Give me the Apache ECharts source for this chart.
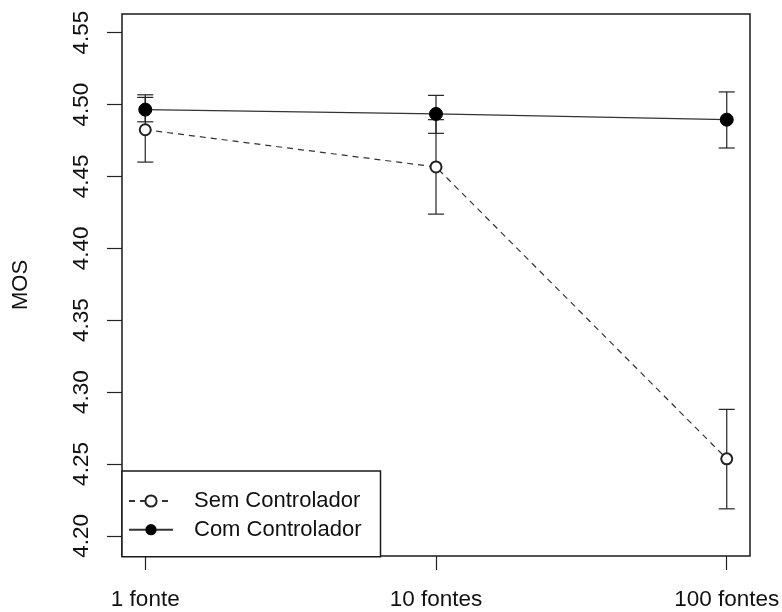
<!DOCTYPE html>
<html>
<head>
<meta charset="utf-8">
<script src="https://cdn.jsdelivr.net/npm/echarts@6/dist/echarts.min.js"></script>
<style>
html,body{margin:0;padding:0;background:#fff;}
#chart{width:782px;height:612px;}
</style>
</head>
<body>
<div id="chart"></div>
<script>
// ---- data ----
const categories = ['1 fonte', '10 fontes', '100 fontes'];
const xPositions = [1, 2, 3];
const semMean = [4.4825, 4.4566, 4.2536];
const semLow  = [4.4600, 4.4238, 4.2188];
const semHigh = [4.5050, 4.4895, 4.2880];
const comMean = [4.4965, 4.4935, 4.4895];
const comLow  = [4.4880, 4.4800, 4.4698];
const comHigh = [4.5068, 4.5064, 4.5088];
const yTicks = [4.20, 4.25, 4.30, 4.35, 4.40, 4.45, 4.50, 4.55];
const seriesNames = ['Sem Controlador', 'Com Controlador'];

const FONT = '"Liberation Sans", Arial, Helvetica, sans-serif';
const chart = echarts.init(document.getElementById('chart'));

function errData(low, high) {
  return xPositions.map((x, i) => [x, low[i], high[i]]);
}
function errRender(params, api) {
  const x = api.value(0);
  const lo = api.coord([x, api.value(1)]);
  const hi = api.coord([x, api.value(2)]);
  const cap = 8;
  const style = { stroke: '#222', lineWidth: 1.2 };
  return {
    type: 'group',
    children: [
      { type: 'line', shape: { x1: lo[0], y1: lo[1], x2: hi[0], y2: hi[1] }, style },
      { type: 'line', shape: { x1: lo[0] - cap, y1: lo[1], x2: lo[0] + cap, y2: lo[1] }, style },
      { type: 'line', shape: { x1: hi[0] - cap, y1: hi[1], x2: hi[0] + cap, y2: hi[1] }, style }
    ]
  };
}

chart.setOption({
  animation: false,
  backgroundColor: '#fff',
  textStyle: { fontFamily: FONT },
  grid: {
    left: 122, right: 32, top: 14, bottom: 56,
    containLabel: false, outerBoundsMode: 'none',
    show: true, borderColor: '#1a1a1a', borderWidth: 1.5, backgroundColor: 'transparent'
  },
  xAxis: {
    type: 'value', min: 0.92, max: 3.08,
    splitLine: { show: false },
    axisLine: { show: false },
    axisTick: { show: true, length: 14, inside: false, customValues: xPositions,
                lineStyle: { color: '#222', width: 1.2 } },
    axisLabel: { show: true, customValues: xPositions, margin: 32,
                 color: '#111', fontSize: 22.5, fontFamily: FONT,
                 formatter: v => categories[xPositions.indexOf(Math.round(v))] || '' }
  },
  yAxis: {
    type: 'value', min: 4.186, max: 4.563,
    name: 'MOS', nameLocation: 'middle', nameGap: 90, nameRotate: 90,
    nameTextStyle: { color: '#111', fontSize: 22, fontFamily: FONT },
    splitLine: { show: false },
    axisLine: { show: false },
    axisTick: { show: true, length: 15, customValues: yTicks,
                lineStyle: { color: '#222', width: 1.2 } },
    axisLabel: { show: true, customValues: yTicks, rotate: 90, margin: 29,
                 color: '#111', fontSize: 22.5, fontFamily: FONT,
                 formatter: v => v.toFixed(2) }
  },
  legend: {
    data: seriesNames,
    orient: 'vertical',
    left: 122, top: 471,
    padding: [19, 19, 16, 6],
    itemWidth: 44, itemHeight: 14, itemGap: 6.7,
    textStyle: { fontSize: 22, color: '#111', fontFamily: FONT, padding: [0, 0, 0, 16] },
    borderColor: '#1a1a1a', borderWidth: 1.5, backgroundColor: '#fff',
    borderRadius: 0,
    z: 10
  },
  series: [
    {
      name: seriesNames[0], type: 'line',
      data: xPositions.map((x, i) => [x, semMean[i]]),
      symbol: 'emptyCircle', symbolSize: 11,
      lineStyle: { color: '#333', width: 1.2, type: [6, 5] },
      itemStyle: { color: '#222', borderColor: '#222', borderWidth: 1.2 },
      z: 3
    },
    {
      name: seriesNames[1], type: 'line',
      data: xPositions.map((x, i) => [x, comMean[i]]),
      symbol: 'circle', symbolSize: 13,
      lineStyle: { color: '#333', width: 1.2, type: 'solid' },
      itemStyle: { color: '#000', borderColor: '#000' },
      z: 3
    },
    { type: 'custom', renderItem: errRender, data: errData(semLow, semHigh), z: 2, silent: true },
    { type: 'custom', renderItem: errRender, data: errData(comLow, comHigh), z: 2, silent: true }
  ]
});
</script>
</body>
</html>
